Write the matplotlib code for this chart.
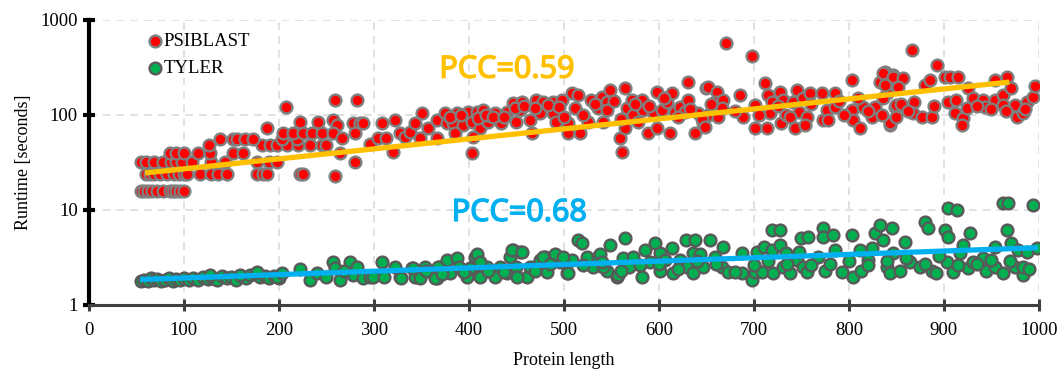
import matplotlib.pyplot as plt
import matplotlib.patheffects as pe
import numpy as np

# PSIBLAST runtimes (protein length, seconds)
psi_len = [55, 58, 62, 66, 72, 78, 85, 88, 92, 96, 100,
           60, 64, 68, 75, 82, 90, 95, 100,
           55, 60, 68, 78, 86, 92, 98,
           85, 92, 100,
           109, 128, 143, 177, 190, 198,
           103, 117, 129, 136, 145, 177, 183, 187, 222, 225,
           115, 127, 152, 162,
           126, 182, 191, 198, 208, 220, 233, 245,
           138, 152, 156, 164, 173, 203, 219,
           204, 215, 225, 235, 245,
           187, 222, 241, 207,
           259, 282, 257, 261, 257, 250, 259, 266, 278, 285, 280, 264, 280, 288,
           296, 304, 309, 313, 322, 320, 327, 333, 338, 343, 348, 351, 357, 366,
           366, 375, 377, 383, 385, 387, 394, 399, 403, 403, 408, 412, 415, 420,
           427, 434, 440, 446, 450, 454, 404,
           456, 464, 471, 478, 475, 466, 488, 488, 498, 492, 504, 504, 509, 515,
           512, 517, 525, 529, 536, 540, 545, 545, 548, 541, 559, 561, 564, 564,
           566, 572, 573, 578, 582, 583, 588, 594, 598, 598, 603, 608, 612, 614,
           617, 622, 627, 631, 631, 638, 641, 646, 650, 652,
           645, 648, 652, 661, 659, 667, 662, 666, 671, 685, 689, 698, 701, 701,
           712, 714, 715, 719, 717, 727, 729, 731, 734, 741, 743, 745, 747, 752,
           756, 754, 759, 772, 773, 777, 778, 785, 785, 803, 803, 804, 812, 815,
           824, 827, 833, 838, 840, 843, 846, 849, 849,
           836, 846, 857, 838, 852, 836, 850, 843, 850, 866, 869, 868, 877, 880,
           885, 887, 893, 901, 906, 915, 904, 913, 912, 920, 919, 924, 925, 931,
           941, 943, 954, 954, 962, 966, 971, 962, 975, 977, 983, 987, 994, 996,
           380, 392, 410, 418, 425, 437, 448, 458, 470, 483, 495, 500, 520, 533,
           553, 560, 575, 590, 605, 620, 633, 655, 680, 705, 725, 738, 760, 790,
           795, 810, 820, 835, 855, 862, 890, 935, 950, 965, 985]
psi_time = [16, 16, 16, 16, 16, 16, 16, 16, 16, 16, 16,
            24, 24, 24, 24, 24, 24, 24, 24,
            32, 32, 32, 32, 32, 32, 32,
            40, 40, 40,
            32, 32, 32, 32, 32, 32,
            24, 24, 24, 24, 24, 24, 24, 24, 24, 24,
            40, 40, 40, 40,
            48, 48, 48, 48, 48, 48, 48, 48,
            56, 56, 56, 56, 56, 56, 56,
            65, 65, 65, 65, 65,
            72, 84, 84, 120,
            144, 144, 88, 78, 65, 48, 23, 57, 82, 82, 65, 40, 32, 82,
            50, 57, 82, 57, 88, 41, 65, 58, 66, 82, 57, 105, 73, 88,
            57, 105, 82, 82, 65, 105, 78, 108, 84, 40, 108, 73, 112, 84,
            105, 82, 108, 133, 84, 112, 58,
            137, 88, 144, 137, 105, 65, 105, 137, 144, 84, 82, 65, 170, 162,
            118, 65, 84, 144, 118, 155, 137, 112, 183, 84, 57, 41, 192, 73,
            118, 144, 100, 84, 144, 112, 65, 108, 175, 73, 112, 137, 65, 170,
            108, 121, 108, 144, 222, 65, 105, 82, 192, 100,
            90, 75, 196, 175, 137, 144, 96, 118, 573, 162, 96, 418, 127, 73,
            216, 73, 162, 137, 105, 175, 82, 144, 100, 137, 73, 183, 108, 151,
            96, 78, 170, 170, 88, 112, 88, 170, 121, 233, 112, 88, 73, 121,
            96, 121, 222, 284, 170, 78, 264, 206, 121,
            276, 250, 245, 206, 196, 151, 127, 82, 96, 482, 137, 105, 96, 206,
            233, 96, 336, 250, 250, 250, 137, 144, 105, 93, 78, 118, 192, 151,
            144, 121, 233, 144, 162, 250, 192, 127, 127, 96, 105, 137, 155, 202,
            95, 100, 92, 100, 95, 96, 118, 125, 118, 128, 120, 95, 100, 130,
            140, 90, 130, 125, 150, 95, 115, 130, 110, 100, 125, 95, 130, 140,
            100, 150, 110, 100, 130, 110, 125, 125, 115, 110, 115]

# TYLER runtimes
tyl_len = [55, 58, 62, 65, 68, 72, 76, 80, 84, 88, 92, 96, 100,
           105, 110, 115, 120, 125, 130, 135, 140, 145, 150, 155, 160, 165,
           170, 175, 180, 185, 190, 195, 200,
           127, 159, 177, 198, 203, 222, 233, 240, 250, 257, 259, 264, 275,
           278, 282, 288, 296, 268,
           299, 309, 311, 322, 327, 340, 343, 354, 366, 369, 377, 380, 387,
           394, 398, 406, 404, 412, 419, 427, 433, 440, 443, 446, 454, 450,
           461, 468, 475, 480, 482, 489, 496, 503, 509, 515, 519, 524, 531,
           536, 545, 548, 556, 564, 562, 569, 573, 582, 585, 591, 596, 601,
           601, 606, 614, 615, 622, 629, 630, 636,
           329, 341, 348, 364, 367, 390, 401, 408, 412, 412, 445, 451, 456,
           464, 478, 491, 499, 504, 538, 541, 557,
           636, 638, 643, 646, 654, 659, 667, 666, 673,
           687, 687, 698, 701, 703, 708, 711, 719, 727, 719, 720, 727, 731,
           734, 738, 745, 747, 752, 750, 757, 756, 767, 773, 773, 775, 783,
           785, 793, 803, 804, 812, 813, 820, 824, 827, 833, 836, 840, 843,
           845, 846, 854, 859, 864, 875, 880, 883, 887, 892, 901, 904, 914,
           904, 903, 910, 917, 920, 927, 925, 931, 941, 944, 954, 954, 962,
           967, 966, 962, 971, 975, 983, 978, 994, 998, 988, 983,
           520, 540, 560, 580, 600, 620, 640, 660, 680, 700, 715, 735, 760,
           780, 800, 820, 840, 860, 880, 895, 915, 935, 950, 970, 990,
           355, 372, 395, 420, 437, 470, 485]
tyl_time = [1.8, 1.85, 1.8, 1.9, 1.82, 1.88, 1.8, 1.85, 1.9, 1.8, 1.87, 1.82, 1.9,
            1.85, 1.9, 1.82, 1.95, 1.88, 1.9, 1.85, 2.0, 1.9, 1.95, 1.85, 2.0, 1.9,
            2.05, 2.1, 1.95, 2.0, 1.92, 2.0, 1.9,
            2.07, 2.07, 2.22, 1.97, 2.17, 2.4, 1.83, 2.17, 1.97, 2.8, 2.45, 1.83, 2.8,
            2.07, 2.5, 1.92, 1.97, 2.3,
            1.97, 2.8, 1.97, 2.5, 1.97, 2.45, 1.97, 2.5, 1.92, 2.5, 3.0, 2.17, 3.1,
            2.3, 1.97, 3.2, 2.5, 2.07, 2.5, 1.97, 2.5, 2.17, 3.2, 3.8, 3.6, 2.5,
            1.97, 2.5, 3.0, 3.2, 2.22, 3.2, 2.8, 2.17, 3.0, 4.8, 4.5, 3.2, 2.5,
            3.2, 2.3, 4.3, 1.97, 5.1, 3.1, 2.5, 3.2, 1.97, 3.8, 2.8, 4.5, 2.3,
            3.5, 3.0, 4.0, 2.17, 3.0, 4.8, 2.5, 3.5,
            1.92, 2.45, 1.92, 1.92, 2.5, 2.5, 2.45, 3.4, 2.85, 1.97, 3.8, 1.97, 3.6,
            2.5, 3.2, 3.4, 3.2, 2.17, 3.4, 2.5, 2.07,
            2.17, 4.8, 3.4, 2.5, 4.8, 3.2, 4.1, 2.5, 2.22,
            3.5, 2.17, 1.83, 2.22, 3.6, 2.22, 4.1, 6.1, 6.1, 3.8, 2.17, 4.3, 2.5,
            3.5, 2.17, 3.0, 3.6, 2.5, 5.1, 5.2, 2.22, 3.2, 6.5, 5.2, 2.3, 5.5,
            3.8, 2.22, 5.5, 1.97, 3.8, 2.3, 3.0, 4.0, 5.7, 7.0, 4.8, 2.5, 2.17,
            6.5, 3.5, 2.3, 4.6, 2.8, 2.5, 7.5, 6.5, 2.3, 2.17, 6.1, 10.5, 10.0,
            5.2, 2.8, 2.22, 3.5, 4.3, 5.7, 2.45, 2.8, 3.1, 2.3, 4.1, 2.5, 11.8,
            11.8, 6.1, 2.17, 4.5, 2.5, 2.07, 3.8, 11.3, 4.0, 3.6, 2.5,
            2.6, 2.8, 2.3, 2.6, 2.7, 2.4, 2.9, 2.7, 2.2, 2.6, 2.9, 2.7, 2.6,
            2.7, 2.9, 2.6, 2.9, 3.1, 2.7, 3.3, 2.6, 2.7, 3.0, 2.9, 2.4,
            2.3, 2.1, 2.2, 2.3, 2.2, 2.3, 2.7]

# trendline end points (exponential trendlines, straight on log axis)
psi_trend_x = [59, 969]
psi_trend_y = [24.5, 222]
tyl_trend_x = [54, 999]
tyl_trend_y = [1.85, 4.0]

plt.rcParams['font.family'] = ['Liberation Serif', 'DejaVu Serif']

fig = plt.figure(figsize=(10.59, 3.70), dpi=100)
ax = fig.add_axes([0.084, 0.176, 0.897, 0.770])

ax.scatter(psi_len, psi_time, s=72, c='#FF0000', edgecolors='#7F7F7F',
           linewidths=1.7, label='PSIBLAST', zorder=3)
ax.scatter(tyl_len, tyl_time, s=72, c='#00B050', edgecolors='#595959',
           linewidths=1.7, label='TYLER', zorder=3)

ax.plot(psi_trend_x, psi_trend_y, color='#FFC000', lw=3.8,
        solid_capstyle='butt', zorder=4)
ax.plot(tyl_trend_x, tyl_trend_y, color='#00B0F0', lw=3.8,
        solid_capstyle='butt', zorder=4)

# slightly heavier than regular weight, like the reference
for x, y, txt, col in [(440, 300, 'PCC=0.59', '#FFC000'),
                       (453, 9.3, 'PCC=0.68', '#00B0F0')]:
    ax.text(x, y, txt, color=col, fontsize=22,
            family=['Noto Sans', 'DejaVu Sans'], ha='center', va='center',
            zorder=5, path_effects=[pe.withStroke(linewidth=1.0, foreground=col)])

ax.set_yscale('log')
ax.set_xlim(0, 1000)
ax.set_ylim(1, 1000)
ax.set_xticks(np.arange(0, 1001, 100))
ax.set_yticks([1, 10, 100, 1000])
ax.set_yticklabels(['1', '10', '100', '1000'])
ax.minorticks_off()

ax.grid(True, color='#D9D9D9', linestyle=(0, (5, 4)), linewidth=1.1, zorder=0)
ax.set_axisbelow(True)

for s in ['top', 'right']:
    ax.spines[s].set_visible(False)
ax.spines['left'].set_color('black')
ax.spines['left'].set_linewidth(3)
ax.spines['bottom'].set_color('#404040')
ax.spines['bottom'].set_linewidth(2.2)
ax.tick_params(axis='y', direction='inout', length=8, width=3, color='black',
               labelsize=13.5, pad=4)
ax.tick_params(axis='x', direction='inout', length=8, width=2.2, color='#404040',
               labelsize=13.5, pad=8)

ax.set_xlabel('Protein length', fontsize=13, labelpad=10)
ax.set_ylabel('Runtime [seconds]', fontsize=13, labelpad=6)

ax.legend(loc='upper left', bbox_to_anchor=(0.05, 0.995), frameon=False,
          fontsize=13.5, handlelength=0.8, handletextpad=0.05,
          borderaxespad=0.2, labelspacing=0.55, markerscale=1.0)

fig.savefig('out.png', dpi=100)
